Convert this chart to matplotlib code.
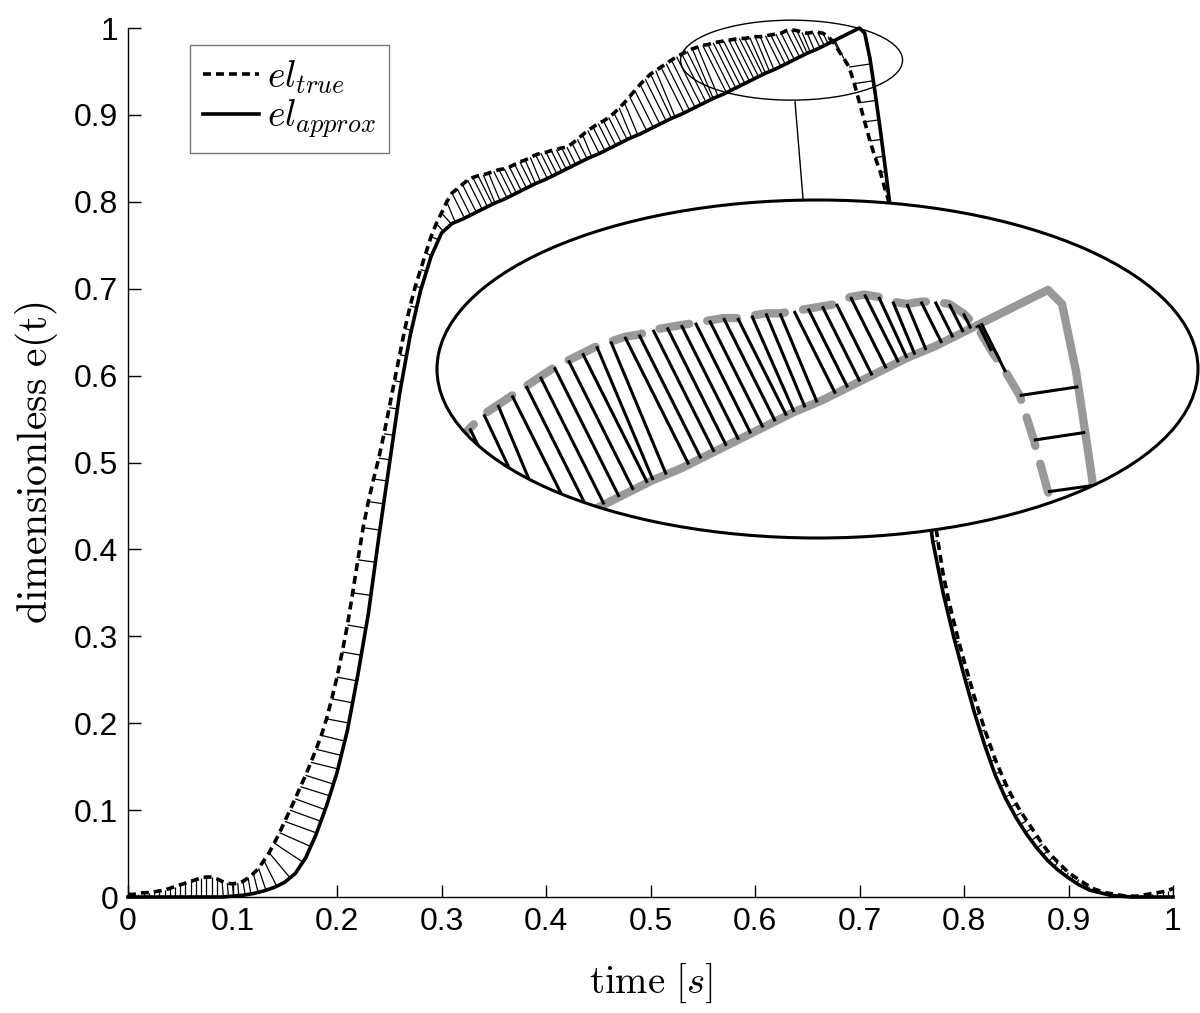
import numpy as np
import matplotlib
matplotlib.use('Agg')
import matplotlib.pyplot as plt
from matplotlib.patches import Ellipse
from matplotlib.collections import LineCollection

# ---------------- data ----------------
# approximation samples (finer around its peak)
time_approx = np.round(np.concatenate([np.arange(0, 0.68, 0.01),
                                       np.arange(0.68, 0.74, 0.005),
                                       np.arange(0.74, 1.0001, 0.01)]), 3)

el_approx = [
    0, 0, 0, 0, 0, 0, 0, 0, 0, 0,
    0.001, 0.002, 0.004, 0.007, 0.011, 0.017, 0.027, 0.045, 0.072, 0.105,
    0.143, 0.192, 0.256, 0.326, 0.414, 0.497, 0.580, 0.646, 0.698, 0.737,
    0.764, 0.775, 0.780, 0.786, 0.792, 0.798, 0.803, 0.809, 0.815, 0.821,
    0.826, 0.832, 0.838, 0.844, 0.850, 0.855, 0.861, 0.867, 0.873, 0.878,
    0.884, 0.890, 0.896, 0.901, 0.907, 0.913, 0.919, 0.924, 0.930, 0.936,
    0.942, 0.948, 0.953, 0.959, 0.965, 0.971, 0.976, 0.982,
    # 0.680 ... 0.735 (step 0.005)
    0.988, 0.991, 0.994, 0.997, 1.000, 0.994, 0.965, 0.925, 0.882, 0.836, 0.788, 0.740,
    # 0.74 ... 1.00
    0.690, 0.595, 0.500, 0.410, 0.350, 0.300,
    0.255, 0.212, 0.174, 0.140, 0.113, 0.091, 0.072, 0.056, 0.042, 0.031,
    0.022, 0.014, 0.008, 0.005, 0.002, 0.001, 0, 0, 0, 0,
    0,
]

# true signal samples, every 0.005 s
time_true = np.round(np.arange(0, 1.0001, 0.005), 3)

el_true = [
    0.003, 0.003, 0.004, 0.005, 0.005, 0.006, 0.007, 0.008, 0.010, 0.012,   # 0.000-0.045
    0.014, 0.016, 0.018, 0.020, 0.022, 0.023, 0.023, 0.021, 0.018, 0.016,   # 0.050-0.095
    0.015, 0.016, 0.018, 0.022, 0.027, 0.033, 0.042, 0.051, 0.062, 0.074,   # 0.100-0.145
    0.087, 0.100, 0.113, 0.127, 0.140, 0.155, 0.170, 0.186, 0.205, 0.228,   # 0.150-0.195
    0.253, 0.282, 0.313, 0.350, 0.388, 0.425, 0.455, 0.481, 0.505, 0.533,   # 0.200-0.245
    0.563, 0.594, 0.624, 0.654, 0.680, 0.703, 0.722, 0.741, 0.760, 0.775,   # 0.250-0.295
    0.787, 0.800, 0.810, 0.815, 0.820, 0.825, 0.828, 0.830, 0.831, 0.833,   # 0.300-0.345
    0.835, 0.837, 0.838, 0.840, 0.843, 0.846, 0.848, 0.851, 0.854, 0.856,   # 0.350-0.395
    0.857, 0.859, 0.860, 0.862, 0.863, 0.867, 0.872, 0.877, 0.882, 0.886,   # 0.400-0.445
    0.890, 0.893, 0.897, 0.902, 0.908, 0.914, 0.921, 0.928, 0.935, 0.941,   # 0.450-0.495
    0.947, 0.951, 0.955, 0.959, 0.963, 0.967, 0.970, 0.973, 0.976, 0.978,   # 0.500-0.545
    0.980, 0.981, 0.983, 0.984, 0.985, 0.986, 0.987, 0.988, 0.988, 0.989,   # 0.550-0.595
    0.990, 0.990, 0.991, 0.992, 0.993, 0.994, 0.997, 0.998, 0.997, 0.995,   # 0.600-0.645
    0.994, 0.995, 0.995, 0.994, 0.990, 0.984, 0.974, 0.965, 0.955, 0.936,   # 0.650-0.695
    0.914, 0.892, 0.870, 0.851, 0.834, 0.812, 0.793, 0.765, 0.735, 0.688,   # 0.700-0.745
    0.640, 0.592, 0.545, 0.498, 0.452, 0.410, 0.372, 0.343, 0.318, 0.294,   # 0.750-0.795
    0.272, 0.251, 0.230, 0.211, 0.192, 0.175, 0.158, 0.144, 0.130, 0.118,   # 0.800-0.845
    0.107, 0.097, 0.088, 0.079, 0.070, 0.061, 0.053, 0.046, 0.040, 0.034,   # 0.850-0.895
    0.028, 0.024, 0.020, 0.016, 0.012, 0.009, 0.007, 0.005, 0.004, 0.003,   # 0.900-0.945
    0.002, 0.001, 0.001, 0.001, 0.002, 0.003, 0.004, 0.005, 0.006, 0.007,   # 0.950-0.995
    0.010,                                                                  # 1.000
]

tick_vals = [0, 0.1, 0.2, 0.3, 0.4, 0.5, 0.6, 0.7, 0.8, 0.9, 1]
tick_labels = ['0', '0.1', '0.2', '0.3', '0.4', '0.5', '0.6', '0.7', '0.8', '0.9', '1']

# ---------------- helpers ----------------
ta = np.asarray(time_approx, float)
ya = np.asarray(el_approx, float)
tt = np.asarray(time_true, float)
yt = np.asarray(el_true, float)


def connectors(ts, ys, tc, yc, a=1.2):
    """segment from each sample (ts, ys) to the nearest point of polyline (tc, yc)"""
    x0 = tc[:-1] * a
    y0 = yc[:-1]
    dx = (tc[1:] - tc[:-1]) * a
    dy = yc[1:] - yc[:-1]
    L2 = dx * dx + dy * dy
    segs = []
    for px, py in zip(ts * a, ys):
        u = np.clip(((px - x0) * dx + (py - y0) * dy) / L2, 0, 1)
        qx = x0 + u * dx
        qy = y0 + u * dy
        k = np.argmin((qx - px) ** 2 + (qy - py) ** 2)
        segs.append([(px / a, py), (qx[k] / a, qy[k])])
    return segs


segs = connectors(tt, yt, ta, ya)

plt.rcParams['mathtext.fontset'] = 'cm'
plt.rcParams['font.family'] = ['Liberation Sans', 'DejaVu Sans']

fig = plt.figure(figsize=(12, 10.13), dpi=100)
ax = fig.add_axes([128 / 1200, 1 - 897 / 1013, (1173 - 128) / 1200, (897 - 28) / 1013])

ax.add_collection(LineCollection(segs, colors='black', linewidths=0.9, zorder=2))
ax.plot(tt, yt, color='black', lw=2.6, linestyle=(0, (2.2, 1.4)), zorder=3,
        clip_on=False, label=r'$el_{true}$')
ax.plot(ta, ya, color='black', lw=2.6, zorder=3, clip_on=False,
        label=r'$el_{approx}$')

ax.set_xlim(0, 1)
ax.set_ylim(0, 1)
ax.set_xticks(tick_vals)
ax.set_xticklabels(tick_labels)
ax.set_yticks(tick_vals)
ax.set_yticklabels(tick_labels)
ax.tick_params(direction='in', length=9, width=1, labelsize=23, pad=7)
for side in ('top', 'right'):
    ax.spines[side].set_visible(False)
for side in ('left', 'bottom'):
    ax.spines[side].set_linewidth(1.0)

ax.set_xlabel(r'$\mathrm{time}\ [s]$', fontsize=28, labelpad=18)
ax.set_ylabel(r'$\mathrm{dimensionless\ e(t)}$', fontsize=30, labelpad=10)

leg = ax.legend(loc='upper left', bbox_to_anchor=(0.0593, 0.980), borderaxespad=0,
                fontsize=27, frameon=True, fancybox=False, handlelength=1.5,
                handletextpad=0.2, labelspacing=0.05, borderpad=0.35)
leg.get_frame().set_edgecolor('#555555')
leg.get_frame().set_linewidth(1.0)

# small zoom ellipse and connecting line on main axes
ax.add_patch(Ellipse((0.635, 0.963), 0.2124, 0.092, fill=False, edgecolor='black',
                     lw=1.0, zorder=4, clip_on=False))
ax.plot([0.6383, 0.646], [0.915, 0.803], color='black', lw=1.0, zorder=4)

# ---------------- inset ----------------
axi = fig.add_axes([437 / 1200, 1 - 538 / 1013, 761 / 1200, 338 / 1013])
axi.set_xlim(0.4834, 0.7532)
axi.set_ylim(0.8943, 1.0383)
axi.axis('off')
bg = Ellipse((0.5, 0.5), 1, 1, transform=axi.transAxes, facecolor='white',
             edgecolor='none', zorder=0)
axi.add_patch(bg)
l1, = axi.plot(ta, ya, color='#999999', lw=6.0, zorder=1, solid_capstyle='round',
               solid_joinstyle='round')
l2, = axi.plot(tt, yt, color='#999999', lw=6.0, linestyle=(0, (3.6, 2.2)),
               dash_capstyle='round', zorder=1)
lc = LineCollection(segs, colors='black', linewidths=2.2, zorder=2)
axi.add_collection(lc)
for art in (l1, l2, lc):
    art.set_clip_path(bg)
axi.add_patch(Ellipse((0.5, 0.5), 1, 1, transform=axi.transAxes, fill=False,
                      edgecolor='black', lw=2.2, zorder=5, clip_on=False))

fig.savefig('out.png', dpi=100)
